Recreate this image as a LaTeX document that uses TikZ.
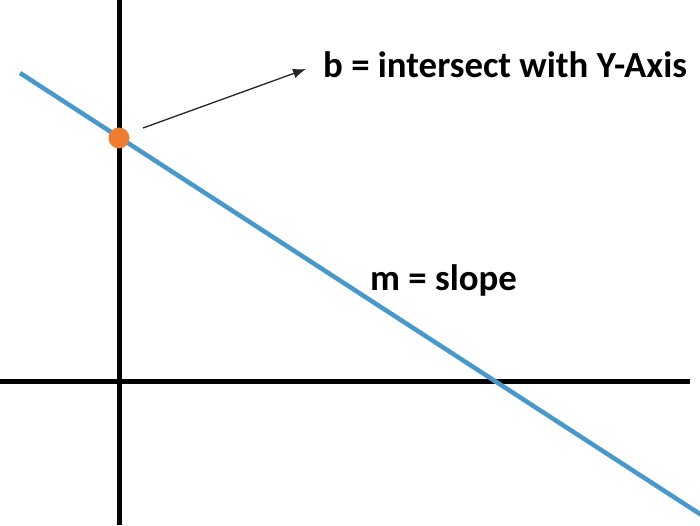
\documentclass[tikz,border=0pt]{standalone}
\usepackage{fontspec}
\setmainfont{Carlito}
\usetikzlibrary{arrows.meta}
\definecolor{lineblue}{RGB}{72,152,204}
\definecolor{dotorange}{RGB}{237,125,49}
\tikzset{
  axis/.style={line width=5pt, black},
  graphline/.style={line width=4.5pt, lineblue},
  pointer/.style={line width=1.3pt, black!85, -{Latex[length=13pt,width=10pt]}},
  label/.style={font=\fontsize{36.8}{40}\selectfont\bfseries, inner sep=0pt, anchor=base west},
  dot/.style={circle, fill=dotorange, minimum size=21pt, inner sep=0pt}
}
\begin{document}
\begin{tikzpicture}[x=1pt,y=1pt]
\useasboundingbox[fill=white] (0,0) rectangle (700,525);
\coordinate (ytop) at (119,525);
\coordinate (ybot) at (119,0);
\coordinate (xl) at (0,144);
\coordinate (xr) at (690,144);
\coordinate (ls) at (20,452);
\coordinate (le) at (703,9);
\draw[axis] (ybot) -- (ytop);
\draw[axis] (xl) -- (xr);
\draw[graphline] (ls) -- (le);
\node[dot] (b) at (119,387) {};
\coordinate (as) at (143,397);
\coordinate (ae) at (306,456);
\draw[pointer] (as) -- (ae);
\node[label] (btext) at (323,447) {b = intersect with Y-Axis};
\node[label] (mtext) at (370,235) {m = slope};
\end{tikzpicture}
\end{document}
